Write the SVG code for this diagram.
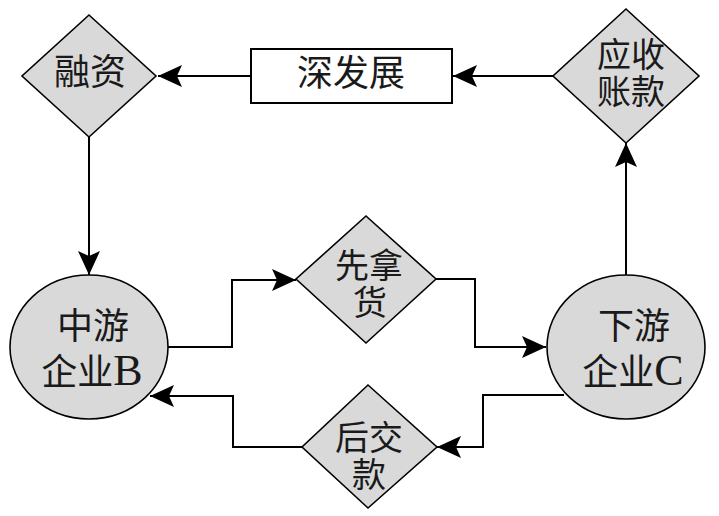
<svg xmlns="http://www.w3.org/2000/svg" width="719" height="516" viewBox="0 0 719 516">
<style>
.shape{fill:#d9d9d9;stroke:#000;stroke-width:1.6}
.box{fill:#fff;stroke:#000;stroke-width:2}
.conn{fill:none;stroke:#000;stroke-width:2}
text{font-family:"Liberation Serif","Noto Sans CJK SC",serif;font-size:36px;fill:#1a1a1a;text-anchor:middle}
.sm{font-size:34px}
.lat{font-size:44px}
</style>
<defs>
<marker id="arr" markerUnits="userSpaceOnUse" markerWidth="26" markerHeight="24" refX="24" refY="11" orient="auto">
<path d="M0,0 L24,11 L0,22 L5,11 z" fill="#000"/>
</marker>
</defs>
<rect width="719" height="516" fill="#fff"/>
<g id="connectors">
<path class="conn" d="M251,76 H158" marker-end="url(#arr)"/>
<path class="conn" d="M89,137 V275" marker-end="url(#arr)"/>
<path class="conn" d="M553,76 H453" marker-end="url(#arr)"/>
<path class="conn" d="M626,275 V143" marker-end="url(#arr)"/>
<path class="conn" d="M168,347 H232 V280 H296" marker-end="url(#arr)"/>
<path class="conn" d="M436,279 H475 V347 H546" marker-end="url(#arr)"/>
<path class="conn" d="M564,395 H483 V447 H437" marker-end="url(#arr)"/>
<path class="conn" d="M302,447 H233 V396 H150" marker-end="url(#arr)"/>
</g>
<g id="rongzi">
<polygon class="shape" points="89,15 156,76 89,137 22,76"/>
<text x="90" y="85">融资</text>
</g>
<g id="shenfazhan">
<rect class="box" x="251" y="49" width="201" height="54"/>
<text x="351" y="86">深发展</text>
</g>
<g id="yingshou">
<polygon class="shape" points="626,9 699,76 626,143 553,76"/>
<text class="sm" x="631" y="67">应收</text>
<text class="sm" x="631" y="104">账款</text>
</g>
<g id="zhongyou">
<ellipse class="shape" cx="89" cy="347" rx="79" ry="72"/>
<text x="93" y="339">中游</text>
<text x="92" y="385">企业<tspan class="lat">B</tspan></text>
</g>
<g id="xiannahuo">
<polygon class="shape" points="366,216 436,279 366,343 296,279"/>
<text class="sm" x="369" y="278">先拿</text>
<text class="sm" x="370" y="315">货</text>
</g>
<g id="xiayou">
<ellipse class="shape" cx="626" cy="347" rx="79" ry="72"/>
<text x="634" y="339">下游</text>
<text x="633" y="385">企业<tspan class="lat">C</tspan></text>
</g>
<g id="houjiaokuan">
<polygon class="shape" points="368,385 437,447 368,508 302,447"/>
<text class="sm" x="369" y="450">后交</text>
<text class="sm" x="369" y="487">款</text>
</g>
</svg>
